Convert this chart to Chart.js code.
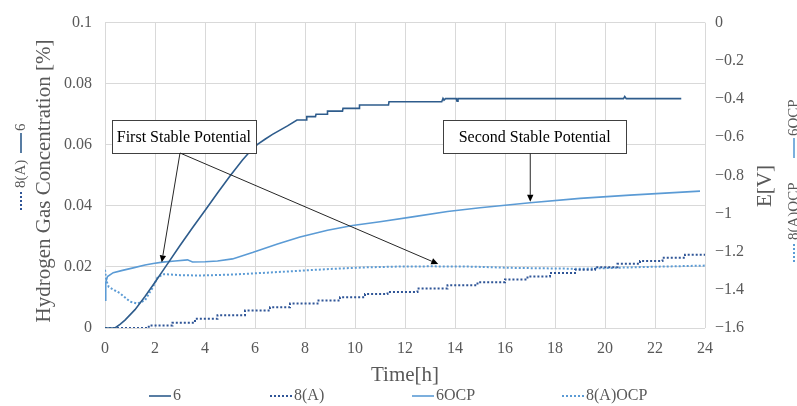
<!DOCTYPE html>
<html>
<head>
<meta charset="utf-8">
<script src="https://cdn.jsdelivr.net/npm/chart.js@4.4.1/dist/chart.umd.min.js"></script>
<style>
html,body{margin:0;padding:0;background:#fff;}
#wrap{width:797px;height:406px;}
</style>
</head>
<body>
<div id="wrap"><canvas id="c" width="797" height="406"></canvas></div>
<script>
// --------------------
// DATA
// --------------------
// series "6" : hydrogen %, left axis
const t6 = [0, 0.4, 0.6, 0.8, 1.2, 1.6, 2.0, 2.5, 3.0, 3.5, 4.0, 4.5, 5.0, 5.5, 5.8, 6.1, 6.4, 6.7, 7.0, 7.3,
  7.68, 8.05, 8.07, 8.42, 8.44, 8.88, 8.9, 9.5, 9.52, 10.16, 10.18, 11.34, 11.36, 13.47, 13.52, 13.56, 13.62,
  14.05, 14.08, 14.12, 20.74, 20.79, 20.85, 23.05];
const h6 = [0, 0, 0.0012, 0.0026, 0.006, 0.0103, 0.015, 0.021, 0.027, 0.0328, 0.0385, 0.0442, 0.0498, 0.055, 0.0578, 0.0601, 0.0618, 0.0634, 0.0648, 0.0662,
  0.0681, 0.0681, 0.0692, 0.0692, 0.070, 0.070, 0.071, 0.071, 0.0719, 0.0719, 0.073, 0.073, 0.0741, 0.0741, 0.0752, 0.0746, 0.0751,
  0.0751, 0.0743, 0.0751, 0.0751, 0.0758, 0.0751, 0.0751];

// series "8(A)" : hydrogen %, left axis (staircase)
const t8 = [0, 1.75, 2.7, 3.6, 4.5, 5.6, 6.6, 7.4, 8.5, 9.4, 10.4, 11.3, 12.5, 13.7, 14.9, 16.0, 16.9, 17.8, 18.8, 19.6, 20.5, 21.4, 22.3, 23.2, 24];
const h8 = [0, 0.0008, 0.0017, 0.003, 0.0042, 0.0057, 0.0068, 0.008, 0.009, 0.0101, 0.0111, 0.0118, 0.0129, 0.014, 0.015, 0.0159, 0.0169, 0.018, 0.0191, 0.0199, 0.021, 0.0219, 0.023, 0.024, 0.024];

// series "6OCP" : potential V, right axis
const t6ocp = [0, 0.03, 0.1, 0.33, 0.7, 1.13, 1.6, 1.93, 2.3, 2.8, 3.3, 3.5, 4.0, 4.5, 5.1, 5.9, 6.9, 7.8, 8.9, 9.9, 11.0, 12.3, 13.7, 15, 17, 19, 21, 23.8];
const e6ocp = [-1.455, -1.36, -1.33, -1.31, -1.298, -1.285, -1.27, -1.262, -1.255, -1.249, -1.243, -1.254, -1.253, -1.249, -1.238, -1.205, -1.16, -1.123, -1.088, -1.063, -1.043, -1.018, -0.99, -0.97, -0.944, -0.921, -0.904, -0.883];

// series "8(A)OCP" : potential V, right axis
const t8ocp = [0, 0.05, 0.15, 0.6, 1.0, 1.3, 1.6, 1.9, 2.1, 2.35, 3.0, 3.8, 5.1, 6.5, 7.8, 9.1, 10.5, 11.8, 13, 14.5, 16.3, 19, 21.7, 24];
const e8ocp = [-1.295, -1.35, -1.385, -1.418, -1.462, -1.472, -1.455, -1.39, -1.335, -1.318, -1.323, -1.325, -1.32, -1.31, -1.3, -1.29, -1.282, -1.278, -1.277, -1.278, -1.285, -1.29, -1.28, -1.273];

const seriesNames = ['6', '8(A)', '6OCP', '8(A)OCP'];

// callouts: box [tLeft, tRight, hTop, hBottom] on left axis, arrows start on box, end at (t, E)
const callouts = [
  {text: 'First Stable Potential', box: [0.27, 6.04, 0.0681, 0.0573], from: [3.0, 0.0573], to: [[2.27, -1.256], [13.33, -1.265]]},
  {text: 'Second Stable Potential', box: [13.53, 20.84, 0.0681, 0.0572], from: [17.01, 0.0572], to: [[17.01, -0.939]]}
];

// --------------------
// HELPERS
// --------------------
const serif = "'Liberation Serif', 'Times New Roman', serif";
const gray = '#595959';
function pts(ts, vs){ return ts.map((t,i)=>({x:t, y:vs[i]})); }

function arrow(ctx, x0, y0, x1, y1){
  const a = Math.atan2(y1-y0, x1-x0), L = 7, W = 3.2;
  const bx = x1 - L*Math.cos(a), by = y1 - L*Math.sin(a);
  ctx.beginPath(); ctx.moveTo(x0, y0); ctx.lineTo(bx, by); ctx.stroke();
  ctx.beginPath(); ctx.moveTo(x1, y1);
  ctx.lineTo(bx + W*Math.sin(a), by - W*Math.cos(a));
  ctx.lineTo(bx - W*Math.sin(a), by + W*Math.cos(a));
  ctx.closePath(); ctx.fill();
}

function keyLine(ctx, ds, x0, x1, y){
  ctx.save();
  ctx.strokeStyle = ds.borderColor; ctx.lineWidth = ds.borderWidth;
  ctx.setLineDash(ds.borderDash || []);
  ctx.beginPath(); ctx.moveTo(x0, y); ctx.lineTo(x1, y); ctx.stroke();
  ctx.restore();
}

const extras = {
  id: 'extras',
  afterDatasetsDraw(chart){
    const {ctx, scales:{x, y, y1}} = chart;
    ctx.save();
    ctx.font = '16px ' + serif;
    ctx.textAlign = 'center'; ctx.textBaseline = 'middle';
    callouts.forEach(c=>{
      const l = x.getPixelForValue(c.box[0]), r = x.getPixelForValue(c.box[1]);
      const tp = y.getPixelForValue(c.box[2]), bt = y.getPixelForValue(c.box[3]);
      ctx.fillStyle = '#fff'; ctx.fillRect(l, tp, r-l, bt-tp);
      ctx.strokeStyle = '#404040'; ctx.lineWidth = 1;
      ctx.strokeRect(Math.round(l)+0.5, Math.round(tp)+0.5, Math.round(r-l), Math.round(bt-tp));
      ctx.fillStyle = '#000';
      ctx.fillText(c.text, (l+r)/2, (tp+bt)/2 + 1);
      const fx = x.getPixelForValue(c.from[0]), fy = y.getPixelForValue(c.from[1]);
      ctx.strokeStyle = '#262626'; ctx.fillStyle = '#000';
      c.to.forEach(p=> arrow(ctx, fx, fy, x.getPixelForValue(p[0]), y1.getPixelForValue(p[1])));
    });
    ctx.restore();
  },
  afterDraw(chart){
    const {ctx} = chart;
    const ds = chart.data.datasets;
    ctx.save();
    ctx.fillStyle = gray;
    ctx.textBaseline = 'middle';
    // vertical axis titles (both read bottom-to-top)
    ctx.font = '21px ' + serif; ctx.textAlign = 'center';
    [[44, 181, 'Hydrogen Gas Concentration [%]'], [765, 186, 'E[V]']].forEach(([cx, cy, s])=>{
      ctx.save(); ctx.translate(cx, cy); ctx.rotate(-Math.PI/2); ctx.fillText(s, 0, 0); ctx.restore();
    });
    // rotated legend keys next to each value axis: [centre x, start y, [series, offset]...]
    ctx.font = '15px ' + serif; ctx.textAlign = 'left';
    [[21, 210, [[1, 0], [0, 57]]], [794, 262, [[3, 0], [2, 104]]]].forEach(([cx, cy, items])=>{
      ctx.save(); ctx.translate(cx, cy); ctx.rotate(-Math.PI/2);
      items.forEach(([i, u])=>{
        keyLine(ctx, ds[i], u, u+20, 0);
        ctx.fillText(seriesNames[i], u+22, 0);
      });
      ctx.restore();
    });
    // bottom legend
    ctx.font = '16px ' + serif;
    const lx = [149, 270, 412, 562], ly = 396;
    ds.forEach((d, i)=>{
      keyLine(ctx, d, lx[i], lx[i]+22, ly);
      ctx.fillText(seriesNames[i], lx[i]+24, ly);
    });
    ctx.restore();
  }
};

// --------------------
// CHART
// --------------------
Chart.defaults.font.family = serif;
Chart.defaults.color = gray;

const tickFont = {family: serif, size: 16};

new Chart(document.getElementById('c'), {
  type: 'line',
  data: {
    datasets: [
      {label: seriesNames[0], data: pts(t6, h6), yAxisID: 'y', borderColor: '#2E5C8C', borderWidth: 1.6},
      {label: seriesNames[1], data: pts(t8, h8), yAxisID: 'y', borderColor: '#2F5597', borderWidth: 2, borderDash: [2, 2], stepped: true},
      {label: seriesNames[2], data: pts(t6ocp, e6ocp), yAxisID: 'y1', borderColor: '#5B9BD5', borderWidth: 1.6},
      {label: seriesNames[3], data: pts(t8ocp, e8ocp), yAxisID: 'y1', borderColor: '#5B9BD5', borderWidth: 2, borderDash: [2, 2]}
    ]
  },
  options: {
    responsive: false,
    animation: false,
    devicePixelRatio: 1,
    layout: {padding: {top: 20, bottom: 18, left: 0, right: 0}},
    elements: {point: {radius: 0}, line: {tension: 0, fill: false}},
    plugins: {legend: {display: false}, tooltip: {enabled: false}},
    scales: {
      x: {
        type: 'linear', min: 0, max: 24,
        ticks: {stepSize: 2, font: tickFont, color: gray, padding: 11},
        grid: {color: '#d9d9d9', drawTicks: false},
        border: {display: false},
        title: {display: true, text: 'Time[h]', font: {family: serif, size: 21}, color: gray, padding: 0},
        afterFit(s){ s.height = 60; }
      },
      y: {
        position: 'left', min: 0, max: 0.1,
        ticks: {stepSize: 0.02, font: tickFont, color: gray, padding: 13, callback: v => String(+v.toFixed(2))},
        grid: {color: '#d9d9d9', drawTicks: false},
        border: {display: false},
        afterFit(s){ s.width = 105; }
      },
      y1: {
        position: 'right', min: -1.6, max: 0,
        ticks: {stepSize: 0.2, font: tickFont, color: gray, padding: 10,
          callback: v => String(+v.toFixed(1)).replace('-', '\u2212')},
        grid: {display: false, drawTicks: false},
        border: {display: false},
        afterFit(s){ s.width = 92; }
      }
    }
  },
  plugins: [extras]
});
</script>
</body>
</html>
